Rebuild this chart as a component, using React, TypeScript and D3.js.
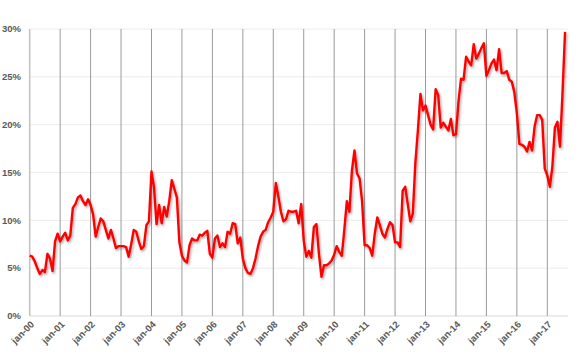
import React from "react";
import * as d3 from "d3";

// Monthly values (%), Jan 2000 – Aug 2017
const v2000 = [6.3, 6.2, 5.7, 5.0, 4.4, 4.8, 4.6, 6.5, 6.0, 4.7, 7.8, 8.6];
const v2001 = [7.8, 8.3, 8.7, 7.9, 8.4, 11.3, 11.7, 12.4, 12.6, 12.0, 11.6, 12.2];
const v2002 = [11.6, 10.6, 8.3, 9.3, 10.2, 9.9, 9.0, 8.1, 9.0, 8.1, 7.1, 7.3];
const v2003 = [7.3, 7.3, 7.2, 6.2, 7.5, 9.0, 8.8, 7.8, 7.0, 7.3, 9.5, 9.9];
const v2004 = [15.1, 13.4, 9.6, 11.6, 9.7, 11.4, 10.4, 12.0, 14.2, 13.3, 12.4, 7.7];
const v2005 = [6.3, 5.8, 5.6, 7.4, 8.1, 7.9, 7.9, 8.5, 8.4, 8.7, 8.9, 6.5];
const v2006 = [6.1, 8.1, 8.4, 7.2, 7.6, 7.2, 8.8, 8.6, 9.7, 9.6, 7.6, 8.2];
const v2007 = [6.0, 5.0, 4.5, 4.4, 5.0, 6.0, 7.3, 8.3, 8.8, 9.0, 9.8, 10.3];
const v2008 = [10.9, 13.9, 12.5, 10.9, 9.9, 10.1, 11.0, 10.9, 10.9, 11.0, 9.7, 11.7];
const v2009 = [7.9, 6.2, 6.8, 6.1, 9.3, 9.6, 6.5, 4.1, 5.3, 5.3, 5.5, 5.8];
const v2010 = [6.4, 7.3, 6.7, 6.3, 9.0, 12.0, 10.9, 15.2, 17.3, 14.9, 14.4, 12.0];
const v2011 = [7.4, 7.4, 7.1, 6.3, 8.6, 10.3, 9.5, 8.6, 8.2, 9.1, 9.8, 9.5];
const v2012 = [7.7, 7.7, 7.2, 13.1, 13.5, 11.7, 9.9, 10.7, 16.0, 19.4, 23.2, 21.5];
const v2013 = [22.0, 21.0, 20.0, 19.5, 23.7, 23.1, 19.7, 20.2, 19.8, 19.4, 20.6, 18.9];
const v2014 = [19.0, 22.4, 24.8, 24.7, 27.1, 26.6, 26.2, 28.4, 26.9, 27.4, 28.0, 28.5];
const v2015 = [25.1, 25.7, 26.4, 26.8, 25.7, 27.9, 25.4, 25.4, 25.6, 24.7, 24.5, 23.4];
const v2016 = [21.2, 18.0, 17.9, 17.7, 17.2, 18.2, 17.3, 19.8, 21.0, 21.0, 20.5, 15.4];
const v2017 = [14.7, 13.5, 15.6, 19.7, 20.3, 17.7, 23.3, 29.7];

const xTickLabels = [
  "jan-00", "jan-01", "jan-02", "jan-03", "jan-04", "jan-05", "jan-06", "jan-07", "jan-08",
  "jan-09", "jan-10", "jan-11", "jan-12", "jan-13", "jan-14", "jan-15", "jan-16", "jan-17",
];
const yTicks = [0, 5, 10, 15, 20, 25, 30];

const values = [
  ...v2000, ...v2001, ...v2002, ...v2003, ...v2004, ...v2005, ...v2006, ...v2007, ...v2008,
  ...v2009, ...v2010, ...v2011, ...v2012, ...v2013, ...v2014, ...v2015, ...v2016, ...v2017,
];

export default function App() {
  const W = 580;
  const H = 359;
  const x0 = 29.7;
  const xEnd = 568;
  const monthsPerTick = 12;
  const x = d3.scaleLinear().domain([0, 204]).range([x0, 547.3]);
  const y = d3.scaleLinear().domain([0, 30]).range([316, 29]);

  const line = d3
    .line<number>()
    .x((_, i) => x(i))
    .y((d) => y(d))
    .curve(d3.curveLinear);

  const font = "'Liberation Sans', Arial, sans-serif";

  return (
    <svg
      width={W}
      height={H}
      style={{ position: "absolute", left: 0, top: 0, background: "#fff" }}
    >
      <defs>
        <filter id="sh" x="-5%" y="-5%" width="110%" height="115%">
          <feDropShadow dx="1.2" dy="1.6" stdDeviation="0.9" floodColor="#000" floodOpacity="0.35" />
        </filter>
      </defs>
      {/* horizontal gridlines */}
      {yTicks.map((t) => (
        <line
          key={"h" + t}
          x1={x0}
          x2={xEnd}
          y1={y(t)}
          y2={y(t)}
          stroke={t === 0 ? "#d9d9d9" : "#ececec"}
          strokeWidth={1}
        />
      ))}
      {/* vertical year lines */}
      {xTickLabels.map((lab, i) => (
        <line
          key={"v" + lab}
          x1={x(i * monthsPerTick)}
          x2={x(i * monthsPerTick)}
          y1={y(30)}
          y2={y(0)}
          stroke={i === 0 ? "#c4c4c4" : "#9a9a9a"}
          strokeWidth={i === 0 ? 1.6 : 1}
        />
      ))}
      {/* y labels */}
      {yTicks.map((t) => (
        <text
          key={"yl" + t}
          x={21}
          y={y(t)}
          dy="0.35em"
          textAnchor="end"
          fontFamily={font}
          fontWeight="bold"
          fontSize={9.5}
          fill="#595959"
        >
          {t + "%"}
        </text>
      ))}
      {/* x labels */}
      {xTickLabels.map((lab, i) => (
        <text
          key={"xl" + lab}
          transform={`translate(${x(i * monthsPerTick) + 5},${325}) rotate(-45)`}
          textAnchor="end"
          fontFamily={font}
          fontWeight="bold"
          fontSize={9.5}
          fill="#595959"
        >
          {lab}
        </text>
      ))}
      {/* data line */}
      <path
        d={line(values) || ""}
        fill="none"
        stroke="#ff0000"
        strokeWidth={2.4}
        strokeLinejoin="round"
        filter="url(#sh)"
      />
    </svg>
  );
}
